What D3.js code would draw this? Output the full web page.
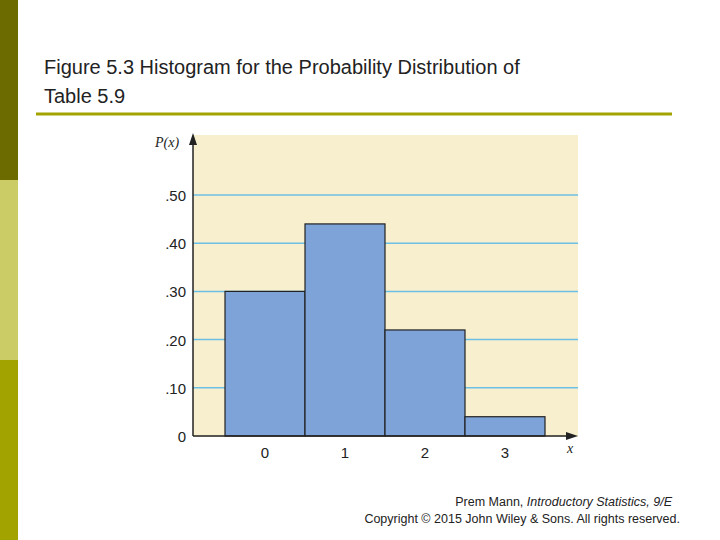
<!DOCTYPE html>
<html><head><meta charset="utf-8">
<script src="https://cdn.jsdelivr.net/npm/d3@7"></script>
<style>body{margin:0;background:#fff}</style>
</head><body>
<svg id="c" width="720" height="540"></svg>
<script>
const xs = [0, 1, 2, 3];
const probs = [0.30, 0.44, 0.22, 0.04];
const yTicks = [0, 0.1, 0.2, 0.3, 0.4, 0.5];
const yLabels = ["0", ".10", ".20", ".30", ".40", ".50"];

const svg = d3.select("#c");

// side strip
svg.append("rect").attr("x", 0).attr("y", 0).attr("width", 18).attr("height", 180).attr("fill", "#6b6b00");
svg.append("rect").attr("x", 0).attr("y", 180).attr("width", 18).attr("height", 180).attr("fill", "#cccc66");
svg.append("rect").attr("x", 0).attr("y", 360).attr("width", 18).attr("height", 180).attr("fill", "#a3a300");

svg.append("text").attr("x", 44).attr("y", 74).attr("font-family", "Liberation Sans, Arial").attr("font-size", 20).attr("fill", "#222")
  .text("Figure 5.3 Histogram for the Probability Distribution of");
svg.append("text").attr("x", 44).attr("y", 103).attr("font-family", "Liberation Sans, Arial").attr("font-size", 20).attr("fill", "#222")
  .text("Table 5.9");
svg.append("line").attr("x1", 36).attr("x2", 672).attr("y1", 114).attr("y2", 114).attr("stroke", "#a3a300").attr("stroke-width", 3);

// plot background
svg.append("rect").attr("x", 193).attr("y", 135).attr("width", 385).attr("height", 302).attr("fill", "#f8efce");

const x = d3.scaleLinear().domain([0, 1]).range([265, 345]);
const y = d3.scaleLinear().domain([0, 0.5]).range([436, 195]);

svg.selectAll(".grid").data(yTicks.slice(1)).enter().append("line")
  .attr("x1", 193).attr("x2", 578).attr("y1", d => y(d)).attr("y2", d => y(d))
  .attr("stroke", "#6cc0e6").attr("stroke-width", 1.5);

svg.selectAll(".bar").data(xs).enter().append("rect")
  .attr("x", d => x(d - 0.5)).attr("width", x(1) - x(0))
  .attr("y", (d, i) => y(probs[i])).attr("height", (d, i) => y(0) - y(probs[i]))
  .attr("fill", "#7ea3d8").attr("stroke", "#222").attr("stroke-width", 1.2);

// axes
svg.append("line").attr("x1", 193).attr("x2", 193).attr("y1", 436).attr("y2", 140).attr("stroke", "#222").attr("stroke-width", 1.5);
svg.append("path").attr("d", "M193,133 L189,145 L197,145 Z").attr("fill", "#222");
svg.append("line").attr("x1", 193).attr("x2", 570).attr("y1", 436).attr("y2", 436).attr("stroke", "#222").attr("stroke-width", 1.5);
svg.append("path").attr("d", "M578,436 L566,432 L566,440 Z").attr("fill", "#222");

svg.selectAll(".yl").data(yTicks).enter().append("text")
  .attr("x", 186).attr("y", d => y(d) + 6).attr("text-anchor", "end")
  .attr("font-family", "Liberation Sans, Arial").attr("font-size", 15).attr("fill", "#222")
  .text((d, i) => yLabels[i]);

svg.selectAll(".xl").data(xs).enter().append("text")
  .attr("x", d => x(d)).attr("y", 458).attr("text-anchor", "middle")
  .attr("font-family", "Liberation Sans, Arial").attr("font-size", 15).attr("fill", "#222")
  .text(d => d);

svg.append("text").attr("x", 155).attr("y", 147).attr("font-family", "Liberation Serif, serif").attr("font-style", "italic").attr("font-size", 14).attr("fill", "#222").text("P(x)");
svg.append("text").attr("x", 567).attr("y", 453).attr("font-family", "Liberation Serif, serif").attr("font-style", "italic").attr("font-size", 14).attr("fill", "#222").text("x");

const f = svg.append("text").attr("x", 672).attr("y", 506).attr("text-anchor", "end").attr("font-family", "Liberation Sans, Arial").attr("font-size", 12.5).attr("fill", "#222");
f.append("tspan").text("Prem Mann, ");
f.append("tspan").attr("font-style", "italic").text("Introductory Statistics, 9/E");
svg.append("text").attr("x", 680).attr("y", 523).attr("text-anchor", "end").attr("font-family", "Liberation Sans, Arial").attr("font-size", 12.5).attr("fill", "#222")
  .text("Copyright © 2015 John Wiley & Sons. All rights reserved.");
</script>
</body></html>
